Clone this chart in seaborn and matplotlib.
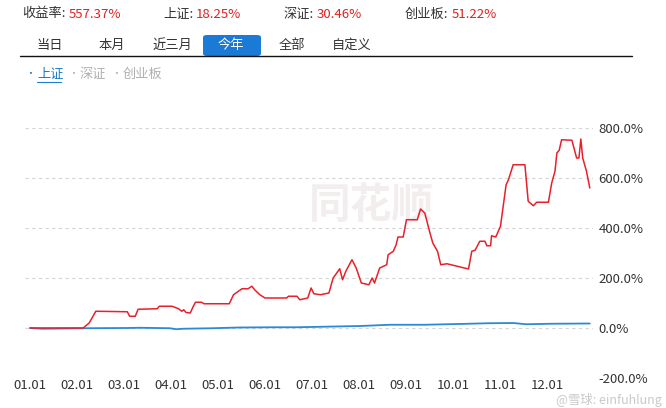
import pandas as pd
import matplotlib.pyplot as plt
import seaborn as sns
from matplotlib.patches import FancyBboxPatch
from matplotlib.lines import Line2D

# 数据 (x = 月份位置, 0 = 01.01)
red_x = [0.0, 1.13, 1.26, 1.40, 2.07, 2.12, 2.24, 2.30, 2.71, 2.75, 3.02, 3.16, 3.23, 3.27,
         3.32, 3.41, 3.47, 3.52, 3.65, 3.70, 4.24, 4.33, 4.51, 4.64, 4.72, 4.78, 4.89, 5.00,
         5.46, 5.50, 5.68, 5.74, 5.91, 5.98, 6.04, 6.18, 6.36, 6.45, 6.59, 6.65, 6.72, 6.85,
         6.94, 7.05, 7.21, 7.28, 7.33, 7.44, 7.59, 7.62, 7.73, 7.79, 7.83, 7.94, 8.01, 8.24,
         8.31, 8.40, 8.51, 8.57, 8.67, 8.74, 8.87, 9.33, 9.40, 9.47, 9.57, 9.68, 9.72, 9.80,
         9.82, 9.91, 10.01, 10.13, 10.18, 10.28, 10.53, 10.60, 10.71, 10.78, 11.03, 11.10,
         11.17, 11.21, 11.26, 11.31, 11.53, 11.63, 11.68, 11.72, 11.76, 11.84, 11.91]
red_v = [0, 0, 20, 67, 65, 47, 47, 75, 77, 87, 87, 77, 67, 73,
         62, 60, 85, 103, 103, 97, 97, 133, 157, 157, 167, 153, 133, 120,
         120, 127, 127, 113, 120, 160, 137, 133, 140, 200, 237, 193, 227, 273,
         240, 180, 173, 200, 180, 240, 253, 293, 307, 333, 364, 364, 433, 433,
         476, 460, 380, 340, 307, 253, 257, 236, 307, 311, 347, 347, 329, 329,
         369, 364, 407, 573, 593, 653, 653, 507, 489, 503, 503, 580,
         627, 700, 711, 753, 751, 680, 680, 756, 680, 627, 560]

blue_x = [0.0, 0.27, 1.13, 2.07, 2.34, 2.98, 3.11, 3.25, 3.88, 4.42, 5.23, 5.68, 6.22,
          7.03, 7.66, 8.39, 9.11, 9.74, 10.28, 10.55, 11.09, 11.91]
blue_v = [0, -3, -1, 0, 1, -1, -5, -3, -1, 2, 3, 3, 5,
          8, 13, 13, 16, 19, 20, 15, 17, 18]

month_labels = ['01.01', '02.01', '03.01', '04.01', '05.01', '06.01',
                '07.01', '08.01', '09.01', '10.01', '11.01', '12.01']
y_ticks = [-200, 0, 200, 400, 600, 800]

header_names = ['收益率:', '上证:', '深证:', '创业板:']
header_values = ['557.37%', '18.25%', '30.46%', '51.22%']
tabs = ['当日', '本月', '近三月', '今年', '全部', '自定义']
series_names = ['上证', '深证', '创业板']

df_red = pd.DataFrame({'m': red_x, 'v': red_v})
df_blue = pd.DataFrame({'m': blue_x, 'v': blue_v})

sns.set_style('white')
plt.rcParams['font.family'] = ['Noto Sans CJK SC', 'DejaVu Sans']

W, H = 666, 408
fig = plt.figure(figsize=(W / 100, H / 100), dpi=100)


def px(x, y):
    return x / W, 1 - y / H


ax = fig.add_axes([25 / W, 1 - 378 / H, (593 - 25) / W, 250 / H])

# 水印
ax.text(0.61, 0.69, '同花顺', transform=ax.transAxes, fontsize=30, style='italic',
        fontweight='bold', color='#f3eeee', ha='center', va='center', zorder=0)

sns.lineplot(data=df_blue, x='m', y='v', color='#2a8ad4', lw=1.3, ax=ax)
sns.lineplot(data=df_red, x='m', y='v', color='#e8202a', lw=1.1, ax=ax)

ax.set_xlim(-5 / 47, 563 / 47)
ax.set_ylim(-200, 800)
ax.set_xticks(range(len(month_labels)))
ax.set_xticklabels(month_labels)
ax.set_yticks(y_ticks)
ax.set_yticklabels([f'{t:.1f}%' for t in y_ticks])
ax.yaxis.tick_right()
ax.tick_params(axis='both', length=0, labelsize=9.5, colors='#333333')
ax.tick_params(axis='y', pad=4)
ax.tick_params(axis='x', pad=1)
ax.yaxis.grid(True, linestyle=(0, (3, 3)), color='#d4d4d4', lw=0.8)
ax.xaxis.grid(False)
ax.set_xlabel('')
ax.set_ylabel('')
for s in ax.spines.values():
    s.set_visible(False)

# 顶部收益率
fig.canvas.draw()
renderer = fig.canvas.get_renderer()
name_x = [22, 163, 283, 405]
for n, v, nx in zip(header_names, header_values, name_x):
    t = fig.text(*px(nx, 14), n, fontsize=9.5, color='#333333', va='center')
    bb = t.get_window_extent(renderer)
    fig.text(bb.x1 / W + 3 / W, 1 - 14 / H, v, fontsize=9.5, color='#e02020', va='center')

# 选项卡
tab_x = [50, 112, 172, 231, 292, 352]
box = FancyBboxPatch(px(203, 56), 58 / W, 21 / H, boxstyle='round,pad=0,rounding_size=0.006',
                     transform=fig.transFigure, facecolor='#1a7ad6', edgecolor='none')
fig.patches.append(box)
for t, tx in zip(tabs, tab_x):
    fig.text(*px(tx, 45), t, fontsize=9.5, ha='center', va='center',
             color='white' if t == '今年' else '#333333')
fig.add_artist(Line2D([20 / W, 632 / W], [1 - 56 / H, 1 - 56 / H], color='#111111', lw=1,
                      transform=fig.transFigure))

# 图例
leg_x = [30, 73, 116]
leg_col = ['#1a7fc8', '#b0b0b0', '#b0b0b0']
for name, lx, c in zip(series_names, leg_x, leg_col):
    fig.text(*px(lx, 74), '•', fontsize=7, color=c, va='center', ha='center')
    fig.text(*px(lx + 7, 74), name, fontsize=9.5, color=c, va='center')
fig.add_artist(Line2D([37 / W, 61 / W], [1 - 82 / H, 1 - 82 / H], color='#1a7fc8', lw=0.8,
                      transform=fig.transFigure))

# 右下角水印
fig.text(*px(662, 400), '@雪球: einfuhlung', fontsize=9, color='#c4c4c4', va='center',
         ha='right', alpha=0.9)

fig.savefig('out.png', dpi=100)
